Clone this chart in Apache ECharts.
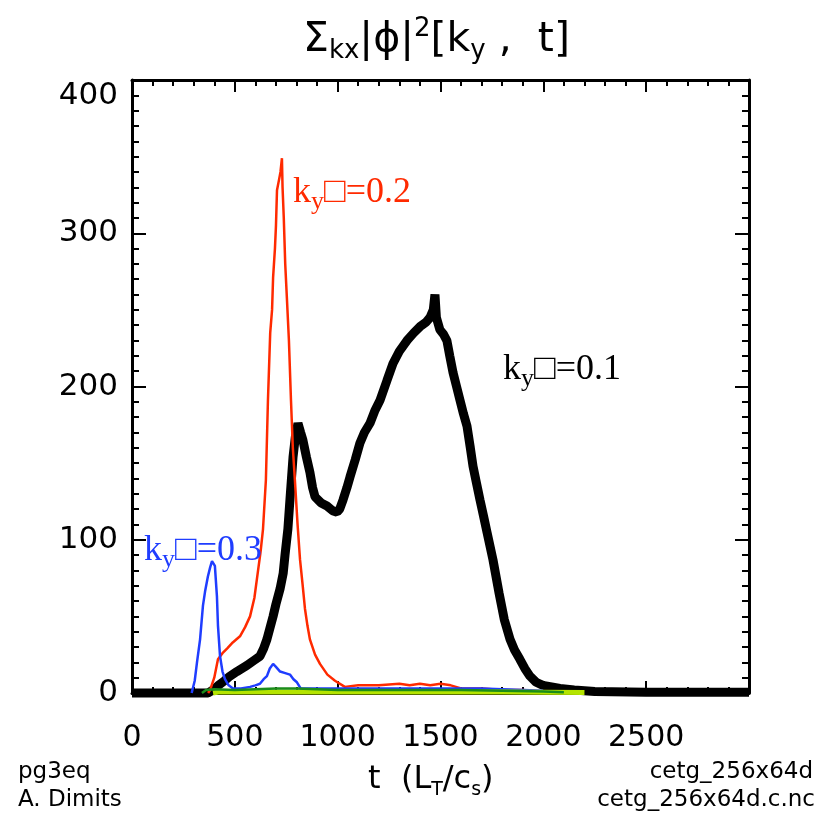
<!DOCTYPE html>
<html>
<head>
<meta charset="utf-8">
<script src="https://cdn.jsdelivr.net/npm/echarts@6/dist/echarts.min.js"></script>
<style>html,body{margin:0;padding:0;background:#fff}#c{width:826px;height:815px}</style>
</head>
<body>
<div id="c"></div>
<script>
// ---- data (t in L_T/c_s, value of sum_kx |phi|^2) ----
const xTicks = [0, 500, 1000, 1500, 2000, 2500];
const yTicks = [0, 100, 200, 300, 400];

const t01 = [0,370,394,420,450,476,510,559,590,622,640,656,670,686,700,720,735,744,758,770,783,795,807,820,831,848,865,878,890,920,948,975,997,1010,1026,1045,1060,1085,1108,1130,1157,1180,1206,1240,1269,1300,1337,1370,1400,1430,1449,1465,1473,1480,1497,1515,1531,1545,1561,1578,1595,1612,1629,1645,1658,1675,1692,1710,1726,1755,1785,1810,1838,1860,1886,1910,1935,1965,1998,2040,2081,2150,2250,2500,3000];
const v01 = [0,0,2,5,8,11,14,18,21,24,29,35,42,50,58,68,78,90,107,130,154,168,176,170,165,154,144,134,128,124,122,119,118,120,126,134,141,152,163,170,176,184,191,204,215,223,230,235,239,242,245,250,260,245,237,234,230,220,209,200,191,182,174,160,148,137,126,115,105,87,65,48,35,28,22,16,11,7,5,4,3,2,1,0.5,0.5];

const t02 = [370,380,400,418,440,462,490,525,550,574,595,612,625,637,651,661,672,681,686,695,700,705,715,722,729,732,738,745,753,763,773,782,792,805,817,830,841,853,865,890,914,950,987,1035,1100,1200,1300,1350,1400,1450,1500,1550,1600,1700,1800,1900,2000];
const v02 = [0,2,10,22,26,29,33,37,43,50,62,79,92,107,139,191,235,250,271,290,305,328,335,340,349,330,310,280,258,230,191,160,139,110,87,70,55,44,35,25,19,12,8,4,5,5,6,5,6,5,6,5,3,3,2,2,1];

const t03 = [290,305,316,331,345,355,369,380,389,398,403,413,418,428,440,452,470,491,530,574,600,622,640,656,670,686,700,720,745,768,785,802,820,900,1000,1100,1200,1300,1400,1500,1600,1700,1800,1900,2000];
const v03 = [0,8,20,35,57,66,76,82,86,85,83,63,44,24,14,9,5,3,3,4,5,6,9,11,16,19,17,14,13,12,9,7,3,3,3,3,3,3,3,3,3,3,2.5,2,1.5];

const tG = [340,360,400,500,600,700,800,900,1000,1200,1400,1600,1800,2000,2100];
const vG = [0,2,2.5,2,2.5,3,3,2.5,2,2,2,2,1.5,1,0.5];

const tY = [394,420,600,800,1000,1200,1400,1600,1800,2000,2200];
const vY = [0,0.6,0.6,0.6,0.6,0.6,0.6,0.6,0.6,0.5,0.3];

const pairs = (t, v) => t.map((x, i) => [x, v[i]]);

const chart = echarts.init(document.getElementById('c'), null, {renderer: 'canvas'});
const axFont = 'DejaVu Sans';
const baseX = {
  type: 'value', min: 0, max: 3000, interval: 500, gridIndex: 0,
  axisLine: {show: true, onZero: false, lineStyle: {color: '#000', width: 3}},
  axisTick: {show: true, inside: true, length: 12, lineStyle: {color: '#000', width: 2}},
  minorTick: {show: true, splitNumber: 5, length: 6, lineStyle: {color: '#000', width: 2}},
  splitLine: {show: false}
};
const baseY = {
  type: 'value', min: 0, max: 400, interval: 100, gridIndex: 0,
  axisLine: {show: true, onZero: false, lineStyle: {color: '#000', width: 3}},
  axisTick: {show: true, inside: true, length: 14, lineStyle: {color: '#000', width: 2}},
  minorTick: {show: true, splitNumber: 10, length: 7, lineStyle: {color: '#000', width: 2}},
  splitLine: {show: false}
};
const lab = (sz, col, fam) => ({fontSize: sz, color: col, fontFamily: fam, fontWeight: 'normal'});
const subStyle = (sz, col, fam, lh) => ({fontSize: sz, color: col, fontFamily: fam, fontWeight: 'normal', verticalAlign: 'bottom', lineHeight: lh});
const supStyle = (sz, col, fam, lh) => ({fontSize: sz, color: col, fontFamily: fam, fontWeight: 'normal', verticalAlign: 'top', lineHeight: lh});

function kyLabel(val, col, left, top) {
  return {
    text: '{k|k}{s|y}{k|□=' + val + '}', left: left, top: top, padding: 0,
    textStyle: {fontWeight: 'normal', rich: {
      k: {fontSize: 36, color: col, fontFamily: 'Liberation Serif', fontWeight: 'normal', lineHeight: 44},
      s: {fontSize: 26, color: col, fontFamily: 'Liberation Serif', fontWeight: 'normal', verticalAlign: 'bottom', lineHeight: 24}
    }}
  };
}
const plainNum = v => String(v);

chart.setOption({
  animation: false,
  backgroundColor: '#fff',
  grid: {left: 132, right: 77, top: 80, bottom: 122, containLabel: false},
  title: [
    {
      text: '{a|Σ}{s|kx}{a|\u007Cϕ\u007C}{p|2}{a|[k}{s|y}{a| ,  t]}', left: 303, top: 16, padding: 0,
      textStyle: {fontWeight: 'normal', rich: {
        a: {fontSize: 41, color: '#000', fontFamily: axFont, fontWeight: 'normal', lineHeight: 48},
        s: subStyle(26, '#000', axFont, 22),
        p: supStyle(26, '#000', axFont, 28)
      }}
    },
    {
      text: '{a|t  (L}{s|T}{a|/c}{s|s}{a|)}', left: 368, top: 760, padding: 0,
      textStyle: {fontWeight: 'normal', rich: {
        a: {fontSize: 32, color: '#000', fontFamily: axFont, fontWeight: 'normal', lineHeight: 40},
        s: subStyle(19, '#000', axFont, 18)
      }}
    },
    {text: 'pg3eq', left: 18, top: 761, padding: 0, textStyle: lab(23, '#000', axFont)},
    {text: 'A. Dimits', left: 18, top: 789, padding: 0, textStyle: lab(23, '#000', axFont)},
    {text: 'cetg_256x64d', right: 13, top: 761, padding: 0, textStyle: lab(23, '#000', axFont)},
    {text: 'cetg_256x64d.c.nc', right: 11, top: 789, padding: 0, textStyle: lab(23, '#000', axFont)},
    kyLabel('0.2', '#ff2a00', 293, 171),
    kyLabel('0.1', '#000000', 503, 348),
    kyLabel('0.3', '#1f3dff', 144, 529)
  ],
  xAxis: [
    Object.assign({}, baseX, {position: 'bottom',
      axisLabel: {show: true, margin: 30, fontSize: 30, color: '#000', fontFamily: axFont,
        customValues: xTicks, formatter: plainNum}}),
    Object.assign({}, baseX, {position: 'top', axisLabel: {show: false}})
  ],
  yAxis: [
    Object.assign({}, baseY, {position: 'left',
      axisLabel: {show: true, margin: 14, fontSize: 31, color: '#000', fontFamily: axFont,
        customValues: yTicks, formatter: plainNum, verticalAlignMaxLabel: 'top'}}),
    Object.assign({}, baseY, {position: 'right', axisLabel: {show: false}})
  ],
  series: [
    {type: 'line', name: 'ky=0.1', data: pairs(t01, v01), showSymbol: false, clip: false,
      lineStyle: {color: '#000', width: 9}, z: 2},
    {type: 'line', name: 'ky=0.2', data: pairs(t02, v02), showSymbol: false,
      lineStyle: {color: '#ff2a00', width: 2.5}, z: 3},
    {type: 'line', name: 'ky=0.3', data: pairs(t03, v03), showSymbol: false,
      lineStyle: {color: '#1f3dff', width: 2.5}, z: 4},
    {type: 'line', name: 'yg', data: pairs(tY, vY), showSymbol: false, clip: false,
      lineStyle: {color: '#b4e400', width: 5}, z: 5},
    {type: 'line', name: 'g', data: pairs(tG, vG), showSymbol: false,
      lineStyle: {color: '#1a8c1a', width: 2.5}, z: 6}
  ]
});
</script>
</body>
</html>
